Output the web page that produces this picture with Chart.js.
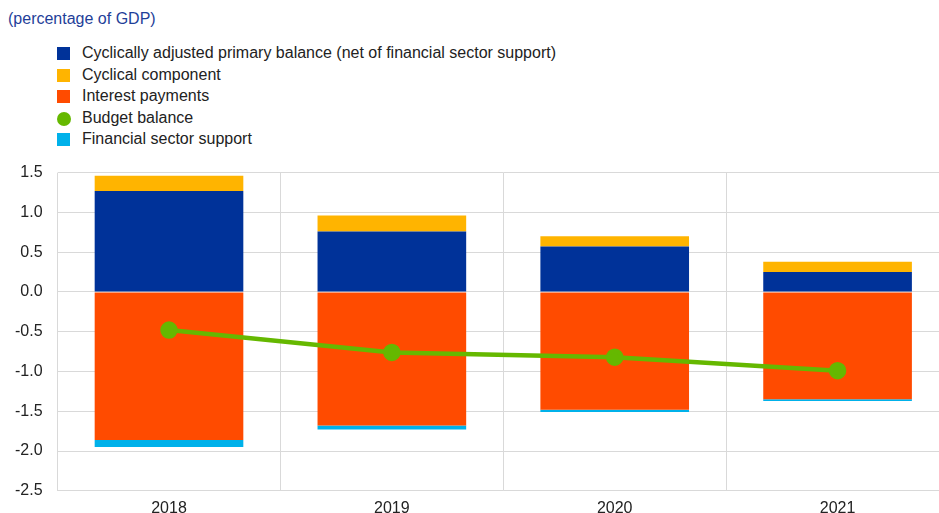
<!DOCTYPE html>
<html>
<head>
<meta charset="utf-8">
<script src="https://cdn.jsdelivr.net/npm/chart.js@4"></script>
<style>
  body { margin: 0; background: #fff; font-family: "Liberation Sans", Arial, sans-serif; }
  #wrap { position: relative; width: 939px; height: 513px; overflow: hidden; }
  #title { position: absolute; left: 8px; top: 10px; font-size: 16px; color: #1f3f99; }
  #legend { position: absolute; left: 57px; top: 43px; font-size: 16px; color: #222; }
  #legend div { height: 21.6px; line-height: 20px; position: relative; padding-left: 25px; }
  #legend span { position: absolute; left: 0; top: 4px; width: 13px; height: 13px; }
  #legend span.dot { border-radius: 50%; width: 14px; height: 14px; }
  #box { position: absolute; left: 0; top: 148px; width: 960px; height: 378px; }
</style>
</head>
<body>
<div id="wrap">
  <div id="title">(percentage of GDP)</div>
  <div id="legend"></div>
  <div id="box"><canvas id="chart"></canvas></div>
</div>
<script>
// Data
const years = ['2018', '2019', '2020', '2021'];
const cyclicallyAdjusted = [1.27, 0.76, 0.57, 0.25];
const cyclicalComponent = [0.19, 0.20, 0.13, 0.13];
const interestPayments = [-1.86, -1.68, -1.48, -1.35];
const financialSupport = [-0.09, -0.05, -0.03, -0.02];
const budgetBalance = [-0.48, -0.76, -0.82, -0.99];

const colors = {
    blue: '#003299',
    yellow: '#ffb400',
    orange: '#ff4b00',
    green: '#65b800',
    cyan: '#00b1ea'
};

// Legend (order as in reference)
const legendItems = [
    { label: 'Cyclically adjusted primary balance (net of financial sector support)', color: colors.blue },
    { label: 'Cyclical component', color: colors.yellow },
    { label: 'Interest payments', color: colors.orange },
    { label: 'Budget balance', color: colors.green, dot: true },
    { label: 'Financial sector support', color: colors.cyan }
];
const legendEl = document.getElementById('legend');
legendItems.forEach(item => {
    const row = document.createElement('div');
    row.innerHTML = `<span class="${item.dot ? 'dot' : ''}" style="background:${item.color}"></span>${item.label}`;
    legendEl.appendChild(row);
});

function bar(label, data, color) {
    return { type: 'bar', label, data, backgroundColor: color, stack: 'bars', order: 1,
             barPercentage: 0.667, categoryPercentage: 1.0 };
}

new Chart(document.getElementById('chart'), {
    data: {
        labels: years,
        datasets: [
            {
                type: 'line',
                label: 'Budget balance',
                data: budgetBalance,
                stack: 'line',
                order: 0,
                borderColor: colors.green,
                backgroundColor: colors.green,
                borderWidth: 4.5,
                pointRadius: 6.5,
                pointHoverRadius: 6.5,
                tension: 0
            },
            bar('Cyclically adjusted primary balance (net of financial sector support)', cyclicallyAdjusted, colors.blue),
            bar('Cyclical component', cyclicalComponent, colors.yellow),
            bar('Interest payments', interestPayments, colors.orange),
            bar('Financial sector support', financialSupport, colors.cyan)
        ]
    },
    options: {
        responsive: true,
        maintainAspectRatio: false,
        animation: false,
        layout: { padding: { left: 0, right: 0, top: 4, bottom: 0 } },
        plugins: { legend: { display: false }, tooltip: { enabled: false } },
        scales: {
            x: {
                stacked: true,
                offset: true,
                grid: { offset: true, color: '#d9d9d9', drawTicks: false },
                border: { color: '#d9d9d9' },
                ticks: { color: '#222', font: { family: 'Liberation Sans', size: 16 }, padding: 8 }
            },
            y: {
                stacked: true,
                min: -2.5,
                max: 1.5,
                grid: { color: '#d9d9d9', drawTicks: false },
                border: { display: false },
                ticks: {
                    stepSize: 0.5,
                    color: '#222',
                    font: { family: 'Liberation Sans', size: 16 },
                    padding: 15,
                    callback: v => v.toFixed(1)
                }
            }
        }
    }
});
</script>
</body>
</html>
